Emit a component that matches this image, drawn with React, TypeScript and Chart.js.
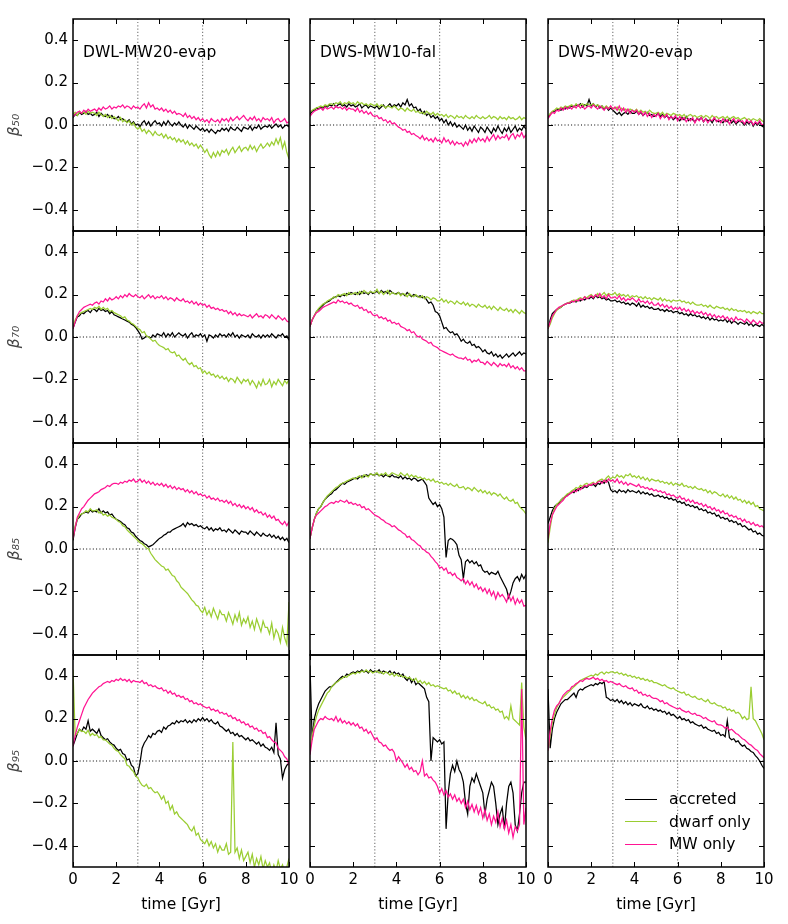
import React, { useEffect, useRef } from "react";
import { Chart, registerables } from "chart.js";

Chart.register(...registerables);

// ---------------- data ----------------
const TIME = [
  0, .1, .2, .3, .4, .5, .6, .7, .8, .9,
  1, 1.1, 1.2, 1.3, 1.4, 1.5, 1.6, 1.7, 1.8, 1.9,
  2, 2.1, 2.2, 2.3, 2.4, 2.5, 2.6, 2.7, 2.8, 2.9,
  3, 3.1, 3.2, 3.3, 3.4, 3.5, 3.6, 3.7, 3.8, 3.9,
  4, 4.1, 4.2, 4.3, 4.4, 4.5, 4.6, 4.7, 4.8, 4.9,
  5, 5.1, 5.2, 5.3, 5.4, 5.5, 5.6, 5.7, 5.8, 5.9,
  6, 6.1, 6.2, 6.3, 6.4, 6.5, 6.6, 6.7, 6.8, 6.9,
  7, 7.1, 7.2, 7.3, 7.4, 7.5, 7.6, 7.7, 7.8, 7.9,
  8, 8.1, 8.2, 8.3, 8.4, 8.5, 8.6, 8.7, 8.8, 8.9,
  9, 9.1, 9.2, 9.3, 9.4, 9.5, 9.6, 9.7, 9.8, 9.9,
  10,
];

const COLUMN_NAMES = ["DWL-MW20-evap", "DWS-MW10-fal", "DWS-MW20-evap"];
const ROW_LABELS = ["β₅₀", "β₇₀", "β₈₅", "β₉₅"];
const SERIES_NAMES = ["accreted", "dwarf only", "MW only"];
const SERIES_COLORS = ["#000000", "#9acd32", "#ff1493"];
const X_TICKS = [0, 2, 4, 6, 8, 10];
const Y_TICKS = [-0.4, -0.2, 0, 0.2, 0.4];
const X_RANGE = [0, 10];
const Y_RANGE = [-0.5, 0.5];
const MARKER_TIMES = [3, 6];
const X_TITLE = "time [Gyr]";

// ---- beta_50 ----
const DWL20_B50_ACC = [
  .035, .05, .045, .06, .05, .055, .065, .05, .055, .045,
  .05, .06, .04, .055, .045, .04, .05, .035, .045, .03,
  .03, .04, .025, .03, .02, .015, .025, .005, .015, 0,
  .005, -.01, .01, .02, 0, .015, -.005, .01, .02, .005,
  .01, -.005, .015, 0, .02, .005, -.005, .01, 0, .015,
  0, -.01, .005, -.015, 0, -.01, -.02, -.005, -.015, -.025,
  -.015, -.03, -.02, -.035, -.02, -.03, -.04, -.025, -.03, -.015,
  -.025, -.015, -.03, -.01, -.02, -.025, -.01, -.02, -.03, -.01,
  -.015, -.02, -.005, -.025, -.01, -.015, 0, -.02, -.01, -.005,
  -.01, 0, -.015, -.005, .005, -.01, 0, -.015, -.005, 0,
  -.01,
];
const DWL20_B50_DWARF = [
  .05, .06, .045, .065, .055, .06, .05, .065, .055, .06,
  .055, .045, .06, .05, .04, .05, .035, .045, .03, .04,
  .03, .02, .035, .015, .025, .01, .02, 0, .01, -.01,
  -.02, -.01, -.03, -.02, -.04, -.025, -.035, -.05, -.03, -.045,
  -.05, -.04, -.06, -.045, -.065, -.055, -.07, -.06, -.08, -.065,
  -.08, -.07, -.09, -.075, -.095, -.085, -.1, -.09, -.11, -.095,
  -.11, -.13, -.115, -.14, -.155, -.13, -.15, -.125, -.145, -.12,
  -.13, -.115, -.14, -.12, -.105, -.13, -.115, -.1, -.125, -.11,
  -.105, -.12, -.095, -.115, -.1, -.125, -.105, -.09, -.11, -.1,
  -.085, -.1, -.08, -.095, -.065, -.09, -.06, -.11, -.08, -.13,
  -.16,
];
const DWL20_B50_MW = [
  .04, .05, .06, .065, .055, .07, .06, .075, .065, .07,
  .075, .065, .08, .07, .085, .075, .08, .09, .075, .085,
  .08, .09, .085, .095, .08, .09, .085, .075, .09, .08,
  .085, .075, .09, .1, .08, .105, .085, .095, .075, .08,
  .07, .08, .065, .075, .06, .07, .055, .065, .05, .055,
  .05, .04, .055, .035, .045, .03, .04, .025, .035, .02,
  .03, .015, .025, .01, .03, .02, .015, .025, .01, .03,
  .02, .03, .015, .035, .02, .03, .04, .025, .035, .045,
  .03, .02, .035, .025, .04, .02, .03, .015, .035, .025,
  .03, .02, .035, .01, .025, .03, .015, .02, .03, .01,
  .015,
];
const DWS10_B50_ACC = [
  .05, .065, .07, .08, .075, .085, .08, .09, .085, .095,
  .09, .1, .085, .095, .1, .09, .095, .085, .1, .09,
  .095, .085, .09, .1, .08, .09, .095, .08, .09, .085,
  .08, .09, .075, .085, .095, .08, .09, .1, .085, .095,
  .09, .1, .085, .105, .095, .12, .09, .1, .08, .085,
  .065, .075, .055, .065, .045, .055, .035, .045, .03, .04,
  .02, .03, .01, .025, 0, .015, -.005, .01, -.01, 0,
  -.01, -.02, 0, -.025, -.01, -.03, -.005, -.02, -.035, -.01,
  -.02, -.035, -.01, -.025, -.04, -.015, -.03, -.005, -.025, -.04,
  -.015, -.03, -.01, -.035, -.02, -.005, -.03, -.015, -.025, -.005,
  -.02,
];
const DWS10_B50_DWARF = [
  .06, .07, .075, .08, .085, .09, .085, .095, .09, .1,
  .1, .095, .105, .1, .11, .095, .105, .1, .11, .1,
  .105, .095, .11, .1, .105, .095, .1, .09, .1, .095,
  .09, .1, .085, .095, .09, .08, .09, .085, .08, .09,
  .08, .07, .08, .075, .065, .08, .07, .065, .075, .06,
  .065, .055, .06, .05, .065, .055, .05, .06, .045, .055,
  .045, .05, .04, .05, .035, .045, .04, .03, .045, .035,
  .04, .03, .045, .035, .03, .04, .03, .045, .035, .03,
  .04, .03, .035, .045, .03, .04, .035, .025, .04, .03,
  .035, .025, .04, .03, .035, .025, .03, .04, .025, .035,
  .03,
];
const DWS10_B50_MW = [
  .04, .055, .065, .07, .075, .08, .07, .085, .075, .08,
  .085, .075, .09, .08, .085, .075, .085, .07, .08, .075,
  .075, .065, .08, .06, .07, .055, .065, .05, .06, .045,
  .04, .045, .03, .035, .02, .025, .01, .02, .005, .01,
  0, -.01, -.015, -.025, -.02, -.035, -.03, -.045, -.04, -.05,
  -.055, -.065, -.05, -.07, -.06, -.075, -.065, -.08, -.06, -.075,
  -.07, -.085, -.06, -.08, -.07, -.09, -.075, -.095, -.08, -.09,
  -.085, -.1, -.08, -.095, -.07, -.085, -.065, -.08, -.06, -.075,
  -.065, -.08, -.055, -.075, -.06, -.045, -.07, -.05, -.065, -.055,
  -.06, -.045, -.07, -.05, -.04, -.065, -.045, -.055, -.035, -.06,
  -.045,
];
const DWS20_B50_ACC = [
  .035, .05, .06, .065, .07, .075, .07, .08, .075, .085,
  .08, .09, .085, .095, .09, .1, .085, .095, .09, .12,
  .09, .1, .085, .095, .08, .09, .075, .085, .07, .08,
  .07, .06, .05, .06, .045, .055, .06, .05, .065, .055,
  .055, .065, .05, .06, .045, .055, .06, .045, .05, .04,
  .045, .055, .04, .05, .035, .045, .03, .04, .025, .035,
  .03, .02, .035, .025, .04, .02, .03, .025, .015, .03,
  .025, .035, .015, .03, .02, .025, .01, .03, .02, .015,
  .02, .01, .025, .015, .03, .01, .02, .005, .015, .02,
  .01, 0, .015, .005, .02, -.005, .01, 0, .015, -.005,
  -.01,
];
const DWS20_B50_DWARF = [
  .04, .055, .065, .07, .08, .075, .085, .08, .09, .085,
  .09, .095, .085, .1, .09, .095, .1, .09, .1, .095,
  .095, .1, .09, .095, .085, .09, .08, .09, .08, .085,
  .08, .075, .085, .07, .08, .07, .075, .065, .075, .07,
  .065, .075, .06, .07, .06, .065, .055, .07, .06, .055,
  .055, .06, .05, .06, .045, .055, .05, .045, .055, .05,
  .045, .05, .04, .05, .035, .045, .05, .04, .045, .035,
  .04, .045, .035, .045, .04, .03, .045, .035, .04, .03,
  .035, .04, .03, .04, .025, .035, .04, .03, .035, .025,
  .03, .035, .025, .03, .02, .03, .025, .02, .03, .02,
  .015,
];
const DWS20_B50_MW = [
  .03, .045, .06, .055, .07, .065, .08, .07, .085, .075,
  .085, .075, .09, .08, .095, .08, .09, .075, .085, .09,
  .08, .095, .085, .075, .09, .08, .07, .085, .075, .09,
  .075, .085, .07, .09, .065, .08, .06, .075, .055, .07,
  .06, .07, .05, .065, .045, .06, .04, .055, .035, .05,
  .04, .055, .03, .045, .035, .05, .025, .04, .03, .045,
  .02, .04, .025, .035, .015, .03, .02, .035, .01, .03,
  .02, .035, .015, .03, .01, .025, .02, .035, .015, .025,
  .01, .03, .015, .025, .005, .02, .03, .01, .025, .015,
  .02, .005, .025, .01, .02, 0, .015, .005, .02, 0,
  .005,
];

// ---- beta_70 ----
const DWL20_B70_ACC = [
  .04, .07, .095, .1, .115, .11, .12, .125, .115, .13,
  .13, .12, .135, .125, .13, .12, .125, .11, .12, .105,
  .1, .095, .09, .085, .08, .075, .07, .06, .055, .045,
  .03, .015, -.01, -.005, .005, 0, -.005, .01, 0, .015,
  .01, .005, .02, 0, .015, .005, .02, 0, .01, .02,
  .01, .005, .015, -.005, .01, .02, 0, .01, .005, .015,
  0, .01, -.02, .01, .005, -.005, .01, 0, .015, .005,
  .01, 0, .015, .005, .02, 0, .01, -.005, .01, .005,
  0, .01, -.005, .015, .005, 0, .01, -.005, .01, 0,
  .01, 0, .015, .005, -.005, .01, .005, .015, 0, .005,
  -.015,
];
const DWL20_B70_DWARF = [
  .05, .08, .1, .11, .115, .12, .125, .13, .135, .13,
  .14, .135, .145, .13, .14, .13, .135, .12, .125, .115,
  .11, .105, .1, .09, .095, .08, .075, .065, .06, .05,
  .04, .035, .02, .025, .005, 0, -.01, -.02, -.015, -.03,
  -.04, -.045, -.05, -.06, -.055, -.07, -.075, -.07, -.09, -.085,
  -.1, -.11, -.1, -.12, -.13, -.12, -.14, -.135, -.15, -.145,
  -.17, -.16, -.175, -.165, -.18, -.175, -.19, -.18, -.195, -.185,
  -.2, -.19, -.21, -.195, -.2, -.215, -.19, -.205, -.22, -.2,
  -.21, -.2, -.225, -.205, -.22, -.24, -.21, -.23, -.2, -.225,
  -.22, -.2, -.235, -.21, -.225, -.2, -.215, -.23, -.205, -.22,
  -.2,
];
const DWL20_B70_MW = [
  .04, .07, .1, .12, .13, .14, .145, .15, .155, .15,
  .16, .165, .155, .17, .165, .18, .17, .185, .175, .18,
  .19, .18, .195, .185, .2, .19, .205, .195, .19, .2,
  .19, .185, .195, .18, .19, .2, .185, .195, .18, .19,
  .185, .195, .18, .19, .175, .185, .18, .17, .185, .175,
  .17, .18, .165, .17, .16, .17, .155, .165, .15, .16,
  .15, .155, .14, .15, .135, .14, .13, .135, .125, .13,
  .12, .125, .11, .12, .105, .115, .1, .11, .1, .105,
  .1, .095, .105, .09, .1, .11, .095, .1, .09, .105,
  .1, .09, .105, .095, .085, .1, .09, .08, .09, .075,
  .07,
];
const DWS10_B70_ACC = [
  .05, .08, .1, .12, .13, .14, .15, .16, .165, .17,
  .18, .185, .19, .195, .19, .2, .195, .205, .2, .21,
  .205, .2, .21, .2, .215, .205, .21, .2, .215, .205,
  .21, .215, .205, .22, .21, .215, .205, .22, .21, .205,
  .205, .21, .2, .205, .195, .21, .2, .19, .2, .195,
  .19, .195, .185, .19, .175, .16, .165, .15, .12, .115,
  .1, .07, .04, .045, .03, .02, .025, .01, .015, 0,
  -.02, -.01, -.025, -.03, -.02, -.04, -.035, -.05, -.045, -.055,
  -.07, -.06, -.075, -.08, -.07, -.09, -.08, -.095, -.085, -.1,
  -.09, -.08, -.095, -.085, -.075, -.09, -.08, -.07, -.085, -.075,
  -.08,
];
const DWS10_B70_DWARF = [
  .05, .08, .1, .12, .135, .145, .155, .16, .17, .175,
  .18, .19, .185, .2, .195, .2, .205, .195, .21, .2,
  .205, .21, .2, .215, .205, .22, .21, .205, .215, .21,
  .21, .225, .205, .215, .2, .21, .22, .2, .21, .205,
  .2, .21, .195, .205, .2, .19, .205, .195, .19, .2,
  .19, .185, .195, .18, .19, .185, .175, .185, .18, .17,
  .17, .18, .165, .175, .16, .17, .165, .155, .17, .16,
  .155, .165, .15, .16, .145, .155, .15, .14, .155, .145,
  .14, .15, .135, .145, .13, .145, .135, .125, .14, .13,
  .125, .135, .12, .13, .115, .13, .12, .11, .125, .115,
  .11,
];
const DWS10_B70_MW = [
  .05, .08, .1, .115, .12, .13, .14, .145, .15, .155,
  .16, .165, .16, .175, .165, .17, .16, .165, .155, .16,
  .15, .145, .15, .135, .14, .125, .13, .115, .12, .105,
  .1, .105, .09, .095, .085, .09, .075, .08, .065, .07,
  .06, .065, .05, .045, .04, .03, .035, .02, .025, .01,
  0, .005, -.01, -.015, -.02, -.03, -.025, -.04, -.045, -.05,
  -.06, -.065, -.07, -.075, -.08, -.085, -.08, -.09, -.095, -.1,
  -.1, -.105, -.095, -.11, -.105, -.12, -.11, -.115, -.105, -.12,
  -.12, -.13, -.115, -.125, -.135, -.12, -.13, -.14, -.125, -.135,
  -.13, -.14, -.125, -.145, -.135, -.15, -.14, -.155, -.145, -.16,
  -.16,
];
const DWS20_B70_ACC = [
  .04, .08, .11, .12, .13, .135, .14, .15, .155, .16,
  .16, .165, .17, .165, .175, .17, .18, .175, .185, .18,
  .19, .18, .195, .185, .19, .18, .185, .175, .18, .17,
  .17, .175, .165, .17, .16, .165, .155, .16, .15, .16,
  .155, .145, .16, .14, .15, .14, .145, .135, .14, .13,
  .13, .135, .125, .13, .12, .13, .12, .125, .115, .12,
  .12, .11, .115, .105, .11, .1, .11, .1, .105, .095,
  .1, .09, .095, .085, .095, .08, .09, .08, .085, .075,
  .08, .075, .085, .07, .08, .065, .075, .07, .06, .07,
  .065, .06, .07, .055, .065, .05, .06, .055, .05, .06,
  .05,
];
const DWS20_B70_DWARF = [
  .04, .06, .09, .11, .125, .135, .14, .15, .155, .16,
  .165, .17, .175, .17, .18, .185, .18, .19, .185, .195,
  .2, .19, .195, .205, .19, .2, .21, .195, .205, .2,
  .2, .21, .195, .205, .195, .2, .19, .2, .185, .195,
  .19, .195, .185, .19, .18, .19, .18, .185, .175, .185,
  .18, .175, .185, .17, .18, .17, .175, .165, .175, .17,
  .17, .175, .165, .17, .16, .165, .155, .165, .155, .15,
  .15, .155, .145, .15, .14, .15, .14, .135, .145, .14,
  .135, .14, .13, .135, .125, .135, .125, .13, .12, .125,
  .12, .125, .115, .12, .11, .12, .115, .11, .12, .11,
  .11,
];
const DWS20_B70_MW = [
  .04, .07, .1, .115, .13, .14, .145, .15, .155, .16,
  .16, .17, .165, .175, .17, .18, .175, .19, .18, .185,
  .195, .185, .2, .19, .205, .185, .195, .18, .2, .185,
  .185, .19, .18, .195, .175, .185, .17, .18, .175, .185,
  .175, .165, .18, .165, .17, .16, .17, .155, .165, .15,
  .15, .16, .145, .155, .14, .15, .135, .145, .13, .14,
  .13, .14, .125, .135, .12, .13, .115, .125, .11, .12,
  .11, .12, .105, .115, .1, .11, .095, .105, .09, .1,
  .09, .1, .085, .095, .08, .09, .075, .095, .08, .085,
  .08, .07, .085, .075, .065, .08, .07, .06, .075, .065,
  .065,
];

// ---- beta_85 ----
const DWL20_B85_ACC = [
  .04, .1, .14, .15, .165, .17, .175, .17, .185, .175,
  .18, .175, .19, .17, .18, .17, .175, .16, .165, .15,
  .14, .135, .13, .12, .115, .1, .095, .08, .075, .06,
  .05, .04, .035, .025, .02, .01, .015, .02, .03, .04,
  .05, .055, .065, .07, .08, .08, .09, .095, .1, .105,
  .11, .12, .105, .125, .115, .12, .11, .115, .105, .11,
  .1, .095, .105, .09, .1, .085, .095, .09, .1, .085,
  .09, .08, .095, .085, .075, .09, .08, .07, .085, .08,
  .08, .07, .085, .075, .065, .08, .07, .06, .075, .065,
  .06, .07, .055, .065, .05, .06, .045, .055, .04, .05,
  .03,
];
const DWL20_B85_DWARF = [
  .05, .11, .14, .16, .165, .17, .18, .175, .19, .18,
  .18, .185, .17, .175, .16, .165, .155, .16, .15, .145,
  .14, .13, .125, .11, .105, .09, .08, .07, .06, .05,
  .04, .03, .025, .015, .005, 0, -.02, -.035, -.05, -.06,
  -.07, -.08, -.085, -.1, -.095, -.11, -.125, -.13, -.15, -.16,
  -.18, -.19, -.2, -.21, -.225, -.24, -.25, -.265, -.27, -.29,
  -.3, -.275, -.31, -.29, -.32, -.28, -.305, -.33, -.29, -.31,
  -.31, -.34, -.3, -.325, -.355, -.31, -.34, -.3, -.36, -.33,
  -.35, -.32, -.37, -.34, -.38, -.33, -.36, -.39, -.34, -.37,
  -.37, -.4, -.35, -.42, -.38, -.4, -.44, -.37, -.42, -.45,
  -.25,
];
const DWL20_B85_MW = [
  .05, .1, .15, .17, .19, .2, .215, .23, .24, .25,
  .26, .265, .27, .28, .285, .29, .3, .295, .305, .31,
  .31, .305, .315, .31, .32, .315, .325, .32, .33, .315,
  .32, .33, .315, .325, .31, .32, .305, .315, .3, .31,
  .3, .31, .295, .305, .29, .3, .285, .295, .28, .29,
  .28, .285, .27, .28, .265, .275, .26, .27, .255, .26,
  .25, .255, .24, .25, .235, .24, .23, .24, .225, .23,
  .22, .23, .215, .225, .205, .215, .2, .21, .195, .205,
  .19, .2, .185, .195, .175, .185, .17, .175, .16, .17,
  .15, .16, .145, .155, .135, .14, .125, .115, .13, .11,
  .13,
];
const DWS10_B85_ACC = [
  .05, .1, .14, .17, .19, .2, .22, .235, .245, .255,
  .26, .275, .28, .29, .3, .31, .305, .315, .32, .325,
  .33, .335, .33, .34, .345, .34, .35, .345, .355, .35,
  .35, .355, .345, .35, .34, .35, .345, .34, .35, .34,
  .34, .335, .345, .33, .34, .33, .335, .325, .335, .33,
  .32, .325, .33, .315, .3, .24, .225, .21, .22, .2,
  .21, .19, .15, -.04, .04, .05, .045, .035, .02, -.03,
  -.05, -.14, -.06, -.05, -.065, -.055, -.07, -.06, -.08, -.075,
  -.1, -.11, -.105, -.12, -.11, -.115, -.12, -.105, -.13, -.15,
  -.17, -.19, -.23, -.2, -.16, -.14, -.13, -.15, -.12, -.14,
  -.12,
];
const DWS10_B85_DWARF = [
  .05, .1, .14, .17, .19, .2, .22, .235, .25, .26,
  .27, .28, .29, .295, .305, .31, .315, .32, .325, .33,
  .335, .33, .34, .345, .335, .35, .345, .34, .355, .35,
  .35, .36, .345, .355, .35, .36, .345, .35, .36, .355,
  .35, .345, .36, .35, .345, .355, .34, .35, .34, .345,
  .335, .34, .33, .335, .325, .33, .32, .33, .315, .32,
  .31, .315, .305, .31, .3, .31, .3, .295, .305, .29,
  .29, .295, .28, .29, .285, .275, .29, .28, .27, .28,
  .265, .275, .26, .27, .255, .265, .26, .25, .26, .245,
  .235, .245, .23, .225, .235, .215, .22, .2, .19, .18,
  .165,
];
const DWS10_B85_MW = [
  .05, .1, .14, .16, .17, .18, .19, .2, .205, .215,
  .22, .215, .225, .22, .23, .225, .22, .23, .215, .22,
  .21, .215, .205, .21, .195, .2, .185, .19, .18, .17,
  .16, .155, .15, .14, .135, .125, .12, .115, .105, .11,
  .1, .09, .085, .075, .07, .055, .06, .045, .04, .03,
  .02, .015, 0, -.005, -.015, -.02, -.035, -.045, -.06, -.07,
  -.09, -.085, -.1, -.09, -.115, -.11, -.125, -.115, -.135, -.14,
  -.15, -.14, -.165, -.15, -.17, -.155, -.18, -.165, -.19, -.18,
  -.2, -.185, -.21, -.19, -.22, -.2, -.235, -.205, -.225, -.215,
  -.23, -.25, -.215, -.245, -.225, -.26, -.235, -.255, -.24, -.27,
  -.265,
];
const DWS20_B85_ACC = [
  .12, .15, .18, .2, .21, .215, .23, .24, .245, .255,
  .26, .27, .265, .28, .275, .29, .285, .295, .29, .3,
  .3, .305, .295, .31, .305, .32, .31, .325, .315, .28,
  .27, .275, .265, .28, .27, .275, .265, .28, .27, .275,
  .27, .265, .275, .26, .27, .26, .265, .255, .26, .25,
  .25, .255, .245, .25, .24, .245, .235, .24, .23, .235,
  .22, .225, .215, .22, .205, .21, .2, .205, .195, .2,
  .185, .19, .18, .185, .17, .175, .165, .17, .155, .16,
  .145, .15, .14, .145, .13, .135, .125, .13, .115, .12,
  .105, .11, .1, .09, .095, .08, .085, .07, .075, .065,
  .06,
];
const DWS20_B85_DWARF = [
  .03, .1, .16, .19, .21, .22, .23, .24, .25, .26,
  .265, .275, .28, .29, .285, .3, .295, .305, .31, .3,
  .31, .315, .305, .32, .325, .33, .32, .335, .345, .33,
  .34, .335, .35, .34, .345, .335, .35, .345, .355, .34,
  .345, .335, .345, .33, .34, .325, .335, .32, .33, .325,
  .32, .325, .315, .32, .31, .315, .305, .315, .3, .31,
  .305, .3, .31, .295, .3, .29, .295, .285, .295, .285,
  .28, .285, .275, .28, .265, .275, .26, .27, .265, .255,
  .25, .26, .245, .255, .24, .25, .235, .245, .23, .235,
  .22, .23, .215, .225, .21, .22, .2, .205, .19, .185,
  .18,
];
const DWS20_B85_MW = [
  .05, .12, .16, .18, .2, .21, .22, .23, .245, .25,
  .26, .265, .275, .27, .285, .28, .29, .3, .295, .305,
  .3, .31, .305, .315, .32, .31, .325, .315, .33, .32,
  .325, .315, .33, .31, .32, .305, .315, .3, .31, .305,
  .3, .295, .305, .29, .295, .285, .29, .28, .285, .275,
  .28, .27, .275, .265, .27, .255, .26, .25, .255, .245,
  .24, .25, .235, .24, .225, .235, .22, .23, .215, .22,
  .21, .215, .2, .21, .195, .2, .185, .195, .18, .185,
  .17, .18, .165, .17, .155, .16, .15, .155, .14, .145,
  .13, .14, .125, .13, .115, .125, .11, .115, .105, .11,
  .1,
];

// ---- beta_95 ----
const DWL20_B95_ACC = [
  .07, .1, .13, .15, .14, .16, .15, .19, .14, .15,
  .14, .13, .15, .12, .11, .1, .105, .09, .08, .075,
  .06, .05, .055, .035, .03, .005, .01, -.02, -.03, -.07,
  -.06, -.01, .06, .085, .1, .12, .11, .13, .125, .14,
  .145, .135, .16, .15, .165, .17, .18, .175, .19, .18,
  .19, .185, .195, .18, .19, .18, .195, .185, .2, .19,
  .205, .19, .2, .185, .195, .18, .175, .185, .165, .16,
  .15, .14, .15, .13, .135, .12, .13, .115, .12, .11,
  .1, .11, .095, .1, .09, .08, .09, .07, .08, .065,
  .06, .05, .065, .04, .18, .03, .01, -.08, -.04, -.02,
  -.01,
];
const DWL20_B95_DWARF = [
  .43, .12, .13, .15, .14, .14, .13, .145, .12, .13,
  .12, .125, .11, .115, .1, .1, .09, .08, .075, .06,
  .05, .045, .03, .02, .01, -.02, -.025, -.04, -.05, -.07,
  -.08, -.1, -.115, -.12, -.11, -.13, -.125, -.14, -.15, -.145,
  -.16, -.18, -.165, -.2, -.19, -.23, -.21, -.25, -.24, -.26,
  -.27, -.28, -.29, -.3, -.32, -.33, -.31, -.35, -.34, -.37,
  -.38, -.39, -.37, -.4, -.38, -.41, -.39, -.43, -.4, -.42,
  -.42, -.39, -.44, -.43, .09, -.43, -.41, -.46, -.42, -.47,
  -.45, -.43, -.48, -.44, -.5, -.46, -.49, -.45, -.51, -.47,
  -.5, -.48, -.53, -.49, -.52, -.47, -.51, -.49, -.53, -.5,
  -.46,
];
const DWL20_B95_MW = [
  .07, .12, .16, .19, .22, .25, .27, .29, .305, .32,
  .33, .34, .35, .355, .365, .37, .375, .37, .38, .375,
  .385, .38, .39, .38, .385, .375, .385, .37, .38, .375,
  .375, .37, .38, .365, .37, .355, .36, .35, .355, .345,
  .34, .345, .33, .335, .32, .33, .315, .32, .305, .31,
  .3, .305, .29, .295, .28, .285, .27, .275, .265, .27,
  .26, .255, .25, .255, .24, .245, .235, .24, .225, .23,
  .22, .225, .21, .215, .2, .205, .19, .195, .18, .185,
  .17, .175, .16, .165, .15, .155, .14, .145, .13, .135,
  .11, .115, .1, .09, .085, .06, .05, .04, .02, .01,
  -.02,
];
const DWS10_B95_ACC = [
  .45, .1, .2, .24, .27, .29, .31, .33, .34, .35,
  .35, .36, .37, .38, .39, .4, .395, .41, .405, .415,
  .42, .415, .425, .42, .43, .42, .425, .415, .43, .42,
  .425, .42, .43, .415, .425, .42, .415, .425, .41, .42,
  .41, .415, .4, .41, .39, .38, .395, .37, .385, .36,
  .37, .36, .35, .34, .3, .28, 0, .11, .1, .09,
  .1, .08, .09, -.32, -.15, -.06, -.02, -.05, 0, -.04,
  -.06, -.1, -.2, -.25, -.12, -.08, -.1, -.06, -.09, -.12,
  -.15, -.25, -.18, -.14, -.1, -.12, -.2, -.3, -.25, -.22,
  -.32, -.2, -.12, -.1, -.15, -.3, -.33, -.25, -.15, -.1,
  -.1,
];
const DWS10_B95_DWARF = [
  .05, .12, .17, .21, .24, .26, .28, .3, .32, .33,
  .35, .36, .37, .375, .385, .39, .4, .395, .405, .41,
  .415, .41, .42, .415, .425, .42, .43, .42, .425, .415,
  .42, .425, .415, .42, .41, .42, .415, .405, .415, .4,
  .41, .4, .405, .395, .4, .39, .395, .385, .38, .39,
  .37, .38, .365, .375, .36, .37, .355, .36, .35, .355,
  .35, .345, .34, .345, .33, .335, .32, .33, .315, .32,
  .3, .31, .295, .305, .29, .3, .285, .29, .28, .275,
  .27, .28, .26, .265, .25, .255, .24, .245, .23, .235,
  .2, .21, .195, .26, .2, .19, .18, .17, .37, .16,
  .1,
];
const DWS10_B95_MW = [
  .03, .1, .15, .17, .19, .2, .195, .21, .2, .195,
  .2, .19, .21, .185, .2, .18, .19, .175, .185, .17,
  .18, .165, .175, .155, .16, .14, .15, .13, .14, .12,
  .1, .11, .09, .085, .07, .075, .06, .05, .055, .04,
  0, .02, .005, -.01, -.03, -.015, -.04, -.03, -.05, -.045,
  -.065, -.05, 0, -.07, -.06, -.08, -.075, -.09, -.1, -.12,
  -.15, -.13, -.16, -.14, -.17, -.155, -.18, -.16, -.19, -.175,
  -.2, -.18, -.22, -.19, -.23, -.205, -.24, -.21, -.25, -.22,
  -.27, -.23, -.28, -.25, -.3, -.26, -.29, -.24, -.31, -.27,
  -.32, -.28, -.34, -.3, -.36, -.31, -.33, -.3, .34, -.3,
  -.22,
];
const DWS20_B95_ACC = [
  .34, .06, .15, .2, .23, .25, .27, .28, .29, .29,
  .3, .31, .32, .3, .33, .34, .335, .345, .35, .355,
  .36, .355, .365, .36, .37, .365, .375, .3, .295, .285,
  .29, .28, .29, .275, .285, .27, .28, .265, .275, .26,
  .27, .265, .26, .27, .255, .25, .26, .245, .25, .24,
  .245, .235, .24, .23, .235, .22, .23, .215, .22, .21,
  .2, .21, .195, .2, .19, .195, .18, .185, .175, .17,
  .165, .17, .155, .16, .15, .145, .14, .145, .13, .135,
  .12, .125, .115, .19, .11, .1, .105, .09, .095, .08,
  .07, .075, .06, .055, .045, .04, .025, .015, 0, -.02,
  -.035,
];
const DWS20_B95_DWARF = [
  .05, .12, .18, .22, .25, .27, .29, .3, .31, .32,
  .33, .34, .35, .36, .37, .38, .385, .39, .395, .4,
  .405, .4, .41, .405, .415, .42, .41, .42, .415, .42,
  .42, .415, .42, .41, .415, .405, .41, .4, .405, .395,
  .4, .39, .395, .385, .39, .38, .385, .375, .38, .37,
  .37, .365, .36, .355, .36, .35, .345, .34, .345, .335,
  .33, .325, .32, .325, .31, .315, .305, .3, .305, .295,
  .29, .295, .285, .28, .29, .275, .27, .275, .265, .26,
  .26, .25, .255, .24, .245, .235, .24, .225, .23, .22,
  .2, .21, .195, .2, .35, .2, .19, .17, .15, .13,
  .1,
];
const DWS20_B95_MW = [
  .05, .14, .2, .24, .26, .27, .29, .31, .32, .33,
  .335, .35, .355, .365, .37, .38, .375, .385, .39, .385,
  .39, .395, .385, .39, .38, .385, .375, .38, .37, .375,
  .37, .365, .36, .365, .355, .35, .355, .345, .34, .345,
  .33, .335, .32, .325, .31, .315, .305, .31, .3, .295,
  .295, .29, .28, .285, .27, .275, .265, .26, .255, .25,
  .245, .25, .24, .235, .23, .235, .225, .22, .225, .215,
  .215, .21, .2, .205, .195, .19, .185, .19, .175, .17,
  .17, .165, .155, .16, .145, .15, .14, .13, .125, .115,
  .105, .1, .09, .08, .075, .065, .055, .05, .035, .025,
  .015,
];

// grid of panels: rows = beta level, columns = simulation
const PANEL_SERIES = [
  [
    [DWL20_B50_ACC, DWL20_B50_DWARF, DWL20_B50_MW],
    [DWS10_B50_ACC, DWS10_B50_DWARF, DWS10_B50_MW],
    [DWS20_B50_ACC, DWS20_B50_DWARF, DWS20_B50_MW],
  ],
  [
    [DWL20_B70_ACC, DWL20_B70_DWARF, DWL20_B70_MW],
    [DWS10_B70_ACC, DWS10_B70_DWARF, DWS10_B70_MW],
    [DWS20_B70_ACC, DWS20_B70_DWARF, DWS20_B70_MW],
  ],
  [
    [DWL20_B85_ACC, DWL20_B85_DWARF, DWL20_B85_MW],
    [DWS10_B85_ACC, DWS10_B85_DWARF, DWS10_B85_MW],
    [DWS20_B85_ACC, DWS20_B85_DWARF, DWS20_B85_MW],
  ],
  [
    [DWL20_B95_ACC, DWL20_B95_DWARF, DWL20_B95_MW],
    [DWS10_B95_ACC, DWS10_B95_DWARF, DWS10_B95_MW],
    [DWS20_B95_ACC, DWS20_B95_DWARF, DWS20_B95_MW],
  ],
];

// ---------------- layout ----------------
const FONT_FAMILY = '"DejaVu Sans", "Bitstream Vera Sans", sans-serif';
const TICK_FONT_SIZE = 15;
const TEXT_FONT_SIZE = 15.5;
const COL_LEFT = [73, 310, 548];
const ROW_TOP = [19, 231, 443, 655];
const PLOT_W = 216;
const PLOT_H = 212;

const formatY = (v: number) => {
  if (Math.abs(v) < 1e-9) return "0.0";
  return (v < 0 ? "\u2212" : "") + Math.abs(v).toFixed(1);
};

const framePlugin = {
  id: "panelFrame",
  afterDatasetsDraw(chart: any) {
    const { ctx, chartArea: a, scales } = chart;
    const xs = scales.x;
    const ys = scales.y;
    const tl = 5;
    ctx.save();
    ctx.strokeStyle = "#000";
    ctx.lineWidth = 1;
    ctx.beginPath();
    X_TICKS.forEach((v) => {
      const p = Math.round(xs.getPixelForValue(v)) + 0.5;
      ctx.moveTo(p, a.bottom);
      ctx.lineTo(p, a.bottom - tl);
      ctx.moveTo(p, a.top);
      ctx.lineTo(p, a.top + tl);
    });
    Y_TICKS.forEach((v) => {
      const p = Math.round(ys.getPixelForValue(v)) + 0.5;
      ctx.moveTo(a.left, p);
      ctx.lineTo(a.left + tl, p);
      ctx.moveTo(a.right, p);
      ctx.lineTo(a.right - tl, p);
    });
    ctx.stroke();
    ctx.lineWidth = 1.5;
    ctx.strokeRect(a.left, a.top, a.right - a.left, a.bottom - a.top);
    ctx.restore();
  },
};

function Panel({ row, col }: { row: number; col: number }) {
  const ref = useRef<HTMLCanvasElement | null>(null);
  const padL = col === 0 ? 73 : 16;
  const padR = 16;
  const padT = 16;
  const padB = row === 3 ? 57 : 16;
  const cw = PLOT_W + padL + padR;
  const ch = PLOT_H + padT + padB;

  useEffect(() => {
    if (!ref.current) return;
    const series = PANEL_SERIES[row][col];
    const refLines: any[] = MARKER_TIMES.map((t) => ({
      label: "t" + t,
      data: [
        { x: t, y: Y_RANGE[0] },
        { x: t, y: Y_RANGE[1] },
      ],
      borderColor: "#808080",
      borderWidth: 1.2,
      borderDash: [1.2, 2.1],
      pointRadius: 0,
      order: 10,
    }));
    refLines.push({
      label: "zero",
      data: [
        { x: X_RANGE[0], y: 0 },
        { x: X_RANGE[1], y: 0 },
      ],
      borderColor: "#000",
      borderWidth: 1,
      borderDash: [1, 2.3],
      pointRadius: 0,
      order: 10,
    });
    const lines = series.map((vals, i) => ({
      label: SERIES_NAMES[i],
      data: TIME.map((t, j) => ({ x: t, y: vals[j] })),
      borderColor: SERIES_COLORS[i],
      borderWidth: 1.25,
      pointRadius: 0,
      tension: 0,
      order: 2 - i,
    }));
    const tickFont = { family: FONT_FAMILY, size: TICK_FONT_SIZE };
    const textFont = { family: FONT_FAMILY, size: TEXT_FONT_SIZE };
    const chart = new Chart(ref.current, {
      type: "line",
      data: { datasets: [...refLines, ...lines] },
      options: {
        responsive: false,
        animation: false,
        events: [],
        layout: { padding: { left: 0, right: padR, top: padT, bottom: 0 }, autoPadding: false },
        plugins: { legend: { display: false }, tooltip: { enabled: false } },
        scales: {
          x: {
            type: "linear",
            position: "bottom",
            min: X_RANGE[0],
            max: X_RANGE[1],
            grid: { display: false, drawTicks: false },
            border: { display: false },
            ticks: {
              display: row === 3,
              font: tickFont,
              color: "#000",
              padding: 4,
              maxRotation: 0,
              autoSkip: false,
              callback: (v: any) => String(v),
            },
            title: {
              display: row === 3,
              text: X_TITLE,
              font: textFont,
              color: "#000",
              padding: { top: 0, bottom: 10 },
            },
            afterBuildTicks: (s: any) => {
              s.ticks = X_TICKS.map((v) => ({ value: v }));
            },
            afterFit: (s: any) => {
              s.height = padB;
            },
          },
          y: {
            type: "linear",
            position: "left",
            min: Y_RANGE[0],
            max: Y_RANGE[1],
            grid: { display: false, drawTicks: false },
            border: { display: false },
            ticks: {
              display: col === 0,
              font: tickFont,
              color: "#000",
              padding: 5,
              autoSkip: false,
              callback: (v: any) => formatY(Number(v)),
            },
            title: {
              display: col === 0,
              text: ROW_LABELS[row],
              font: { family: FONT_FAMILY, size: TEXT_FONT_SIZE, style: "italic" },
              color: "#444",
              padding: { top: 6, bottom: 0 },
            },
            afterBuildTicks: (s: any) => {
              s.ticks = Y_TICKS.map((v) => ({ value: v }));
            },
            afterFit: (s: any) => {
              s.width = padL;
            },
          },
        },
      } as any,
      plugins: [framePlugin],
    });
    return () => chart.destroy();
  }, [row, col]);

  return (
    <canvas
      ref={ref}
      width={cw}
      height={ch}
      style={{
        position: "absolute",
        left: COL_LEFT[col] - padL,
        top: ROW_TOP[row] - padT,
        width: cw,
        height: ch,
      }}
    />
  );
}

const LEGEND_OFFSETS = [144, 166.5, 189];

export default function App() {
  const panels: React.ReactNode[] = [];
  for (let r = 0; r < 4; r++) {
    for (let c = 0; c < 3; c++) {
      panels.push(<Panel key={`p${r}-${c}`} row={r} col={c} />);
    }
  }
  return (
    <div
      style={{
        position: "absolute",
        left: 0,
        top: 0,
        width: 788,
        height: 924,
        background: "#fff",
        overflow: "hidden",
        fontFamily: FONT_FAMILY,
      }}
    >
      {panels}
      {COLUMN_NAMES.map((name, c) => (
        <div
          key={name}
          style={{
            position: "absolute",
            left: COL_LEFT[c] + 10,
            top: ROW_TOP[0] + 33 - 9,
            height: 18,
            lineHeight: "18px",
            fontSize: TEXT_FONT_SIZE,
            color: "#000",
            whiteSpace: "nowrap",
          }}
        >
          {name}
        </div>
      ))}
      {SERIES_NAMES.map((name, i) => (
        <div
          key={name}
          style={{
            position: "absolute",
            left: COL_LEFT[2] + 77,
            top: ROW_TOP[3] + LEGEND_OFFSETS[i] - 9,
            height: 18,
            display: "flex",
            alignItems: "center",
            whiteSpace: "nowrap",
            fontSize: TEXT_FONT_SIZE,
            lineHeight: "18px",
            color: "#000",
          }}
        >
          <span
            style={{
              display: "inline-block",
              width: 32,
              height: 0,
              borderTop: `1.5px solid ${SERIES_COLORS[i]}`,
              marginRight: 12,
            }}
          />
          <span>{name}</span>
        </div>
      ))}
    </div>
  );
}
